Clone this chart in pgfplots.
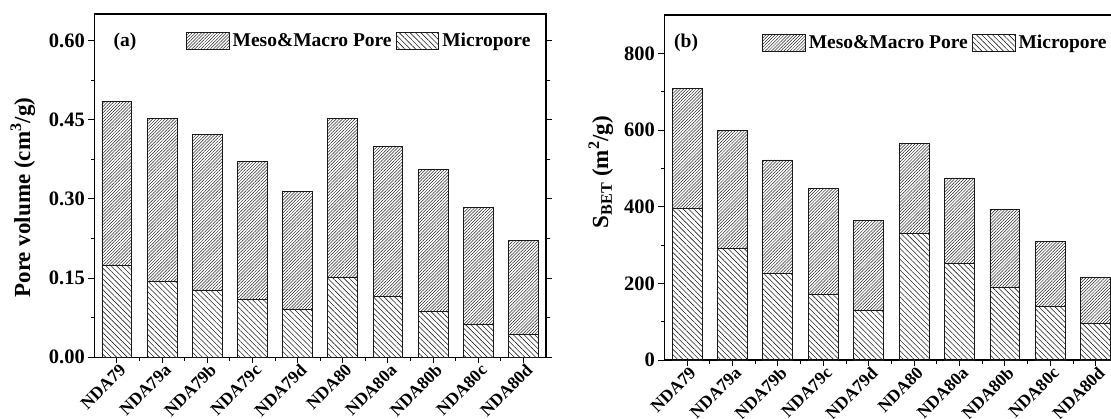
\documentclass[border=0pt]{standalone}
\usepackage{fontspec}
\setmainfont{Liberation Serif}
\usepackage{pgfplots}
\pgfplotsset{compat=1.18}
\usetikzlibrary{patterns.meta}

\pgfplotsset{
 panel/.style={
  scale only axis, anchor=south west,
  ybar stacked, bar width=0.66,
  xmin=-0.5, xmax=9.5, ymin=0,
  xtick={0,...,9},
  xticklabels={NDA79,NDA79a,NDA79b,NDA79c,NDA79d,NDA80,NDA80a,NDA80b,NDA80c,NDA80d},
  minor x tick num=1, minor y tick num=1,
  tick align=outside, xtick pos=left, ytick pos=both,
  major tick length=6pt, minor tick length=3.5pt,
  every tick/.style={black, line width=0.9pt},
  axis line style={line width=1.1pt},
  /pgf/number format/assume math mode=true,
  tick label style={font=\bfseries\fontsize{20.5}{20.5}\selectfont},
  xticklabel style={xshift=6pt, yshift=-4pt, rotate=45, anchor=east, font=\bfseries\fontsize{17.5}{17.5}\selectfont, inner sep=0pt},
  ylabel style={font=\bfseries\fontsize{23}{23}\selectfont, anchor=center},
  legend columns=2, reverse legend,
  legend style={draw=none, fill=none, font=\bfseries\fontsize{19.5}{19.5}\selectfont, anchor=east, inner sep=0pt,
     nodes={inner sep=3.2pt},
     /tikz/every even column/.append style={column sep=1pt}},
  legend cell align=left,
 },
 meso/.style={draw=black!90, line width=0.8pt, pattern={Lines[angle=45,distance=2.2pt,line width=0.5pt]}, pattern color=black!85,
   /pgfplots/legend image code/.code={\draw[##1] (0pt,-8.3pt) rectangle (42.5pt,8.3pt);}},
 micro/.style={draw=black!90, line width=0.8pt, pattern={Lines[angle=-45,distance=3.8pt,line width=0.6pt]}, pattern color=black!85,
   /pgfplots/legend image code/.code={\draw[##1] (0pt,-8.3pt) rectangle (42.5pt,8.3pt);}},
}

\pgfplotstableread{
x micro meso
0 0.174  0.311
1 0.1445 0.3075
2 0.127  0.295
3 0.109  0.261
4 0.091  0.2226
5 0.152  0.301
6 0.115  0.284
7 0.086  0.269
8 0.063  0.221
9 0.044  0.1775
}\pv

\pgfplotstableread{
x micro meso
0 395.6 312.0
1 290.2 307.6
2 224.8 297.2
3 170.8 277.2
4 128.1 236.2
5 329.4 234.4
6 251.0 224.0
7 190.0 203.9
8 139.4 169.1
9 95.9  118.5
}\sb

\begin{document}
\begin{tikzpicture}
\begin{axis}[panel,
  at={(94.3pt,60.7pt)}, width=451.7pt, height=343.3pt,
  ymax=0.65, ytick={0,0.15,0.3,0.45,0.6},
  yticklabel style={/pgf/number format/.cd, fixed, fixed zerofill, precision=2},
  ylabel={Pore volume (cm\textsuperscript{3}/g)},
  ylabel style={at={(axis description cs:-0.158,0.4655)}},
  legend style={at={(axis description cs:0.973,0.922)}},
]
\addplot[micro] table[x=x,y=micro]{\pv};
\addlegendentry{Micropore}
\addplot[meso] table[x=x,y=meso]{\pv};
\addlegendentry{Meso\&Macro Pore}
\node[font=\bfseries\fontsize{19.5}{19.5}\selectfont] at (axis description cs:0.068,0.919) {(a)};
\end{axis}

\begin{axis}[panel,
  at={(664.3pt,58pt)}, width=454.1pt, height=345pt,
  ymax=900, ytick={0,200,400,600,800},
  ylabel={S\textsubscript{BET} (m\textsuperscript{2}/g)},
  ylabel style={at={(axis description cs:-0.14,0.545)}},
  legend style={at={(axis description cs:0.9815,0.92)}},
]
\addplot[micro] table[x=x,y=micro]{\sb};
\addlegendentry{Micropore}
\addplot[meso] table[x=x,y=meso]{\sb};
\addlegendentry{Meso\&Macro Pore}
\node[font=\bfseries\fontsize{19.5}{19.5}\selectfont] at (axis description cs:0.048,0.92) {(b)};
\end{axis}
\pgfresetboundingbox
\useasboundingbox (0pt,0pt) rectangle (1111pt,418pt);
\end{tikzpicture}
\end{document}
